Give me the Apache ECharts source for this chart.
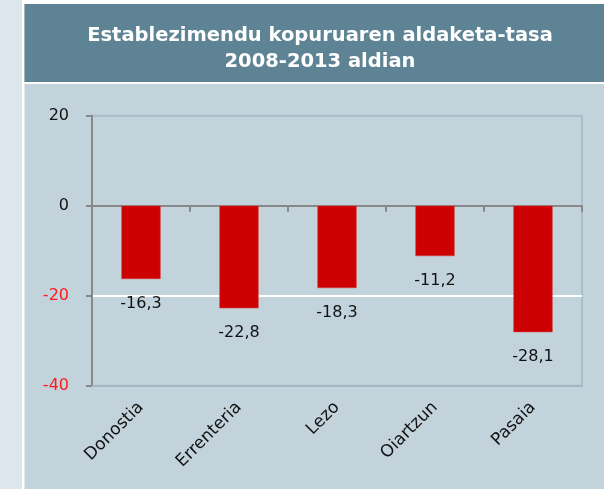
<!DOCTYPE html>
<html>
<head>
<meta charset="utf-8">
<script src="https://cdn.jsdelivr.net/npm/echarts@6/dist/echarts.min.js"></script>
<style>
html,body{margin:0;padding:0;background:#c3d3dc;}
#c{width:604px;height:489px;}
</style>
</head>
<body>
<div id="c"></div>
<script>
const categories = ['Donostia', 'Errenteria', 'Lezo', 'Oiartzun', 'Pasaia'];
const values = [-16.3, -22.8, -18.3, -11.2, -28.1];
const titleLines = ['Establezimendu kopuruaren aldaketa-tasa', '2008-2013 aldian'];
const yMin = -40, yMax = 20, yStep = 20;

const chart = echarts.init(document.getElementById('c'), null, {renderer: 'canvas'});
const FONT = 'DejaVu Sans';
chart.setOption({
  animation: false,
  backgroundColor: '#c3d3dc',
  graphic: [
    {type: 'rect', shape: {x: 0, y: 0, width: 22, height: 489}, style: {fill: '#dde6ed'}, z: -10},
    {type: 'rect', shape: {x: 22, y: 0, width: 2.5, height: 489}, style: {fill: '#ffffff'}, z: -10},
    {type: 'rect', shape: {x: 22, y: 0, width: 582, height: 4}, style: {fill: '#ffffff'}, z: -10},
    {type: 'rect', shape: {x: 24.5, y: 4, width: 580, height: 78}, style: {fill: '#5e8394'}, z: -10},
    {type: 'rect', shape: {x: 24.5, y: 82, width: 580, height: 2}, style: {fill: '#ffffff'}, z: -10}
  ],
  title: {
    text: titleLines.join('\n'),
    left: 315, top: 18, textAlign: 'center',
    textStyle: {color: '#ffffff', fontFamily: 'DejaVu Sans', fontWeight: 'bold', fontSize: 19.5, lineHeight: 26}
  },
  grid: {left: 92, right: 22, top: 115.7, bottom: 103.3, show: true, borderColor: '#a9c0cb', borderWidth: 2, backgroundColor: 'transparent'},
  xAxis: [
    {
      type: 'category', data: categories, position: 'bottom',
      axisLine: {onZero: false, lineStyle: {color: '#a3b8c2', width: 2}},
      axisTick: {show: false},
      axisLabel: {rotate: 45, margin: 19, color: '#111', fontFamily: FONT, fontSize: 17, interval: 0}
    },
    {
      type: 'category', data: categories, position: 'bottom',
      axisLine: {onZero: true, lineStyle: {color: '#888888', width: 2}},
      axisTick: {show: true, length: 6, lineStyle: {color: '#888888', width: 2}},
      axisLabel: {show: false}
    }
  ],
  yAxis: {
    type: 'value', min: yMin, max: yMax, interval: yStep,
    axisLine: {show: true, lineStyle: {color: '#888888', width: 2}},
    axisTick: {show: true, length: 6, lineStyle: {color: '#888888', width: 2}},
    axisLabel: {
      margin: 23, fontFamily: FONT, fontSize: 16,
      color: function (v) { return v < 0 ? '#ff1a1a' : '#111111'; }
    },
    splitLine: {show: true, lineStyle: {color: ['#a3b8c2', '#ffffff', '#888888', '#a9c0cb'], width: 2}}
  },
  series: [{
    type: 'bar', xAxisIndex: 0, data: values, barWidth: '40%',
    itemStyle: {color: '#cc0000', borderColor: '#d94040', borderWidth: 0.5},
    label: {
      show: true, position: 'bottom', distance: 17, color: '#111', fontFamily: FONT, fontSize: 16,
      formatter: function (p) { return String(p.value).replace('.', ','); }
    }
  }]
});
</script>
</body>
</html>
